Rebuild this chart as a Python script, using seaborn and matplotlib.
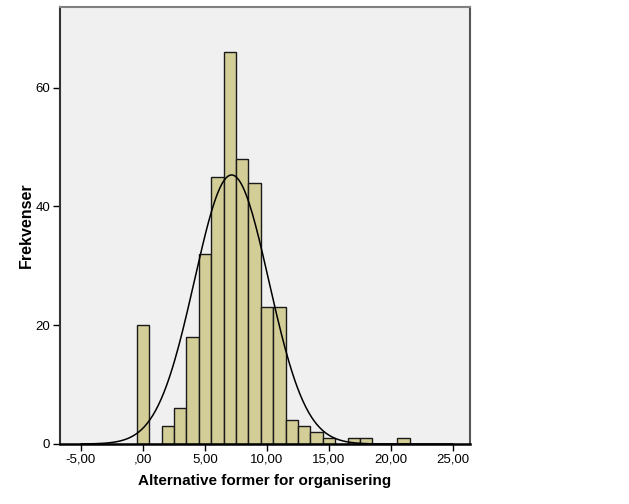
import numpy as np
import pandas as pd
import seaborn as sns
import matplotlib
matplotlib.use("Agg")
import matplotlib.pyplot as plt
from matplotlib import font_manager

# Data (bin centres and frequencies)
bin_centers = [0, 1, 2, 3, 4, 5, 6, 7, 8, 9, 10, 11, 12, 13, 14, 15, 16, 17, 18, 19, 20, 21]
frequencies = [20, 0, 3, 6, 18, 32, 45, 66, 48, 44, 23, 23, 4, 3, 2, 1, 0, 1, 1, 0, 0, 1]
x_ticks = [-5, 0, 5, 10, 15, 20, 25]
x_tick_labels = ["-5,00", ",00", "5,00", "10,00", "15,00", "20,00", "25,00"]
y_ticks = [0, 20, 40, 60]
x_label = "Alternative former for organisering"
y_label = "Frekvenser"

sns.set_theme(style="white")
names = {f.name for f in font_manager.fontManager.ttflist}
tick_font = "Liberation Sans Narrow" if "Liberation Sans Narrow" in names else "Liberation Sans"
plt.rcParams["font.family"] = ["Liberation Sans", "DejaVu Sans"]
plt.rcParams["text.color"] = "black"
plt.rcParams["axes.labelcolor"] = "black"
plt.rcParams["xtick.color"] = "black"
plt.rcParams["ytick.color"] = "black"

df = pd.DataFrame({"x": bin_centers, "n": frequencies})

fig = plt.figure(figsize=(6.29, 5.04), dpi=100)
ax = fig.add_axes([60 / 629, 60 / 504, 410 / 629, 437 / 504])
ax.set_facecolor("#F0F0F0")

sns.histplot(data=df, x="x", weights="n", binwidth=1.0, binrange=(-0.5, 21.5),
             color="#D3CE97", edgecolor="#1a1a1a", linewidth=1.0, alpha=1.0, ax=ax)

# Fitted normal curve (from the data's mean and standard deviation)
vals = np.repeat(np.array(bin_centers, dtype=float), frequencies)
mu, sd, n = vals.mean(), vals.std(ddof=1), len(vals)
xs = np.linspace(-5, 25, 400)
ys = n * 1.0 / (sd * np.sqrt(2 * np.pi)) * np.exp(-0.5 * ((xs - mu) / sd) ** 2)
sns.lineplot(x=xs, y=ys, color="black", linewidth=1.1, ax=ax)

ax.set_xlim(-6.69, 26.37)
ax.set_ylim(0, 73.6)
ax.set_xticks(x_ticks)
ax.set_xticklabels(x_tick_labels, fontfamily=tick_font, fontsize=9.5, color="black")
ax.set_yticks(y_ticks)
ax.set_yticklabels([str(v) for v in y_ticks], fontfamily=tick_font, fontsize=9.5, color="black")
ax.tick_params(axis="both", which="both", direction="out", length=5, width=1,
               color="black", bottom=True, left=True, pad=2)
ax.set_xlabel(x_label, fontsize=11, fontweight="bold", labelpad=6, color="black")
ax.set_ylabel(y_label, fontsize=11.5, fontweight="bold", labelpad=1, color="black")

for side in ["top", "right"]:
    ax.spines[side].set_visible(True)
ax.spines["top"].set_color("#808080")
ax.spines["top"].set_linewidth(1.5)
ax.spines["right"].set_color("#555555")
ax.spines["right"].set_linewidth(1.5)
ax.spines["left"].set_color("#333333")
ax.spines["left"].set_linewidth(1.5)
ax.spines["bottom"].set_color("black")
ax.spines["bottom"].set_linewidth(1.8)
ax.grid(False)

fig.savefig("out.png", dpi=100, facecolor="white")
